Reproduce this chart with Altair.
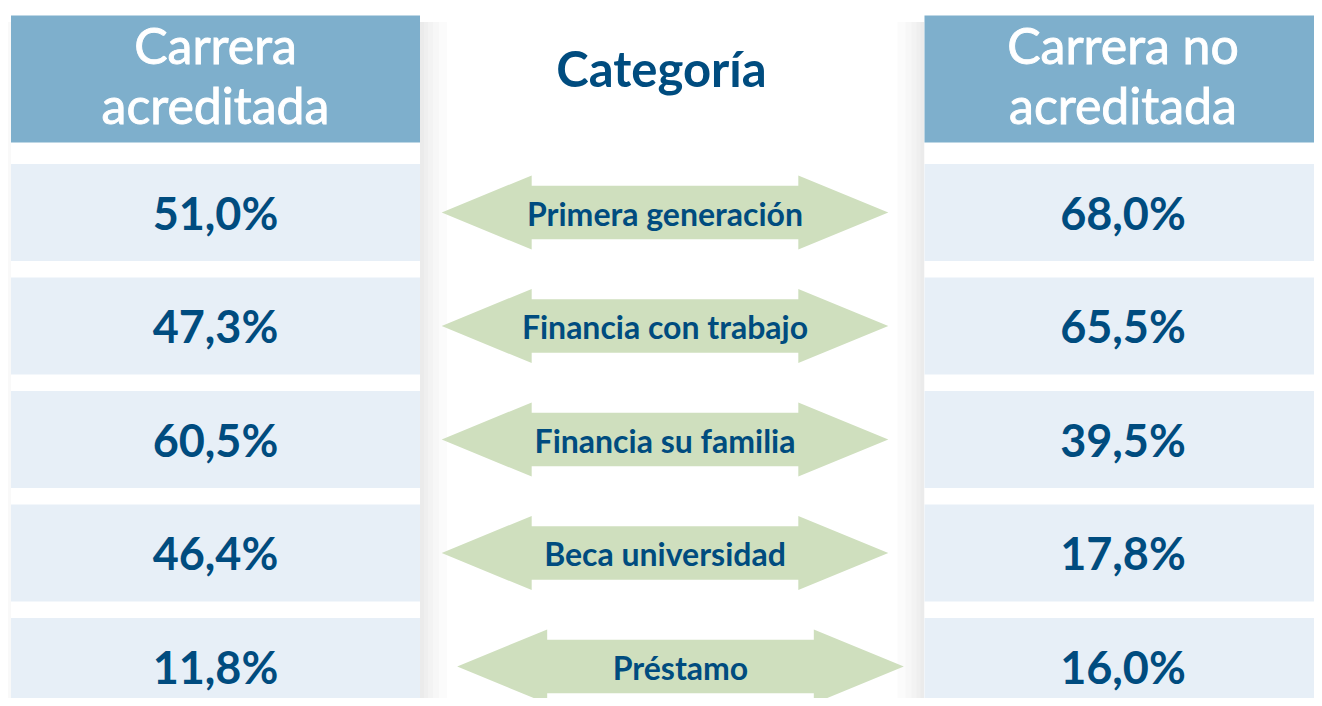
import altair as alt
import pandas as pd

# ---------------- data ----------------
categories = ["Primera generación", "Financia con trabajo", "Financia su familia",
              "Beca universidad", "Préstamo"]
acreditada = [51.0, 47.3, 60.5, 46.4, 11.8]
no_acreditada = [68.0, 65.5, 39.5, 17.8, 16.0]
headers = ["Carrera\nacreditada", "Carrera no\nacreditada"]
center_title = ["Categoría"]

# ---------------- layout / style ----------------
W, H = 1306, 690
PX0, PX1 = 8, 8 + W                # page-pixel x domain
ROW_PITCH = 113.5
ROW1_C = 212.5
def row_units(py):                 # page y -> row units
    return 1 + (py - ROW1_C) / ROW_PITCH
Y_TOP, Y_BOT = row_units(8), row_units(8 + H)

col_x0 = [11, 924.5]
col_x1 = [420, 1330]
col_cx = [215.5, 1123]
arrow_cx = [665, 665, 665, 665, 680.5]
TITLE_CX = 661.5

HDR_TOP, HDR_BOT = row_units(15.5), row_units(142.5)
HDR_TXT = row_units(63.5)
TITLE_Y = row_units(86.5)
HALF = 48.5 / ROW_PITCH

C_HDR = "#7eafcc"
C_ROW = "#e7eff7"
C_ARROW = "#cfdfbe"
C_TXT = "#004c7f"
FONT = "Lato"

ARROW_PATH = ("M -1 0 L -0.597 -0.166 L -0.597 -0.12 L 0.597 -0.12 L 0.597 -0.166 "
              "L 1 0 L 0.597 0.166 L 0.597 0.12 L -0.597 0.12 L -0.597 0.166 Z")
ARROW_SIZE = 446.6 ** 2

def fmt(v):
    return f"{v:.1f}".replace(".", ",") + "%"

# ---------------- tables ----------------
cols = pd.DataFrame({
    "x0": col_x0, "x1": col_x1, "cx": col_cx, "header": headers,
    "ytop": [HDR_TOP] * 2, "ybot": [HDR_BOT] * 2, "ytxt": [HDR_TXT] * 2,
    "yall0": [HDR_TOP - 0.01] * 2, "yall1": [Y_BOT + 0.05] * 2,
})

# soft shadows toward the centre (and a faint one at far left)
shadow_rows = []
for e in [4, 8, 13, 19, 27]:
    shadow_rows.append({"x0": col_x1[0], "x1": col_x1[0] + e, "op": 0.016})
    shadow_rows.append({"x0": col_x0[1] - e, "x1": col_x0[1], "op": 0.016})
for e in [4, 8, 11]:
    shadow_rows.append({"x0": col_x0[0] - e, "x1": col_x0[0], "op": 0.008})
shadows = pd.DataFrame(shadow_rows)
shadows["ytop"] = row_units(22)
shadows["ybot"] = Y_BOT + 0.05

cells = []
for i, cat in enumerate(categories):
    r = i + 1
    for side, vals in enumerate([acreditada, no_acreditada]):
        cells.append({
            "row": r, "y0": r - HALF, "y1": r + HALF,
            "x0": col_x0[side], "x1": col_x1[side], "cx": col_cx[side],
            "label": fmt(vals[i]),
        })
cells = pd.DataFrame(cells)

arrows = pd.DataFrame({
    "row": list(range(1, len(categories) + 1)),
    "cat": categories,
    "ax": arrow_cx,
})

title_df = pd.DataFrame({"t": center_title, "x": [TITLE_CX], "y": [TITLE_Y]})

# ---------------- scales ----------------
xs = alt.Scale(domain=[PX0, PX1], nice=False, zero=False)
ys = alt.Scale(domain=[Y_TOP, Y_BOT], nice=False, zero=False, reverse=True)

shadow_layer = alt.Chart(shadows).mark_rect(color="#000000").encode(
    x=alt.X("x0:Q", scale=xs, axis=None), x2="x1:Q",
    y=alt.Y("ytop:Q", scale=ys, axis=None), y2="ybot:Q",
    opacity=alt.Opacity("op:Q", scale=None),
)

col_bg = alt.Chart(cols).mark_rect(color="white").encode(
    x=alt.X("x0:Q", scale=xs, axis=None), x2="x1:Q",
    y=alt.Y("yall0:Q", scale=ys, axis=None), y2="yall1:Q",
)

hdr_rect = alt.Chart(cols).mark_rect(color=C_HDR).encode(
    x=alt.X("x0:Q", scale=xs, axis=None), x2="x1:Q",
    y=alt.Y("ytop:Q", scale=ys, axis=None), y2="ybot:Q",
)

hdr_text = alt.Chart(cols).mark_text(
    font=FONT, fontSize=50, color="white", lineBreak="\n", lineHeight=60,
    baseline="alphabetic", align="center", stroke="white", strokeWidth=0.9,
).encode(
    x=alt.X("cx:Q", scale=xs, axis=None),
    y=alt.Y("ytxt:Q", scale=ys, axis=None),
    text="header:N",
)

row_rect = alt.Chart(cells).mark_rect(color=C_ROW).encode(
    x=alt.X("x0:Q", scale=xs, axis=None), x2="x1:Q",
    y=alt.Y("y0:Q", scale=ys, axis=None), y2="y1:Q",
)

val_text = alt.Chart(cells).mark_text(
    font=FONT, fontSize=45, fontWeight="bold", color=C_TXT,
    baseline="alphabetic", align="center", dy=17,
).encode(
    x=alt.X("cx:Q", scale=xs, axis=None),
    y=alt.Y("row:Q", scale=ys, axis=None),
    text="label:N",
)

title_text = alt.Chart(title_df).mark_text(
    font=FONT, fontSize=49, fontWeight="bold", color=C_TXT,
    baseline="alphabetic", align="center",
).encode(
    x=alt.X("x:Q", scale=xs, axis=None),
    y=alt.Y("y:Q", scale=ys, axis=None),
    text="t:N",
)

arrow_layer = alt.Chart(arrows).mark_point(
    shape=ARROW_PATH, size=ARROW_SIZE, filled=True, color=C_ARROW,
    opacity=1, strokeWidth=0,
).encode(
    x=alt.X("ax:Q", scale=xs, axis=None),
    y=alt.Y("row:Q", scale=ys, axis=None),
)

arrow_text = alt.Chart(arrows).mark_text(
    font=FONT, fontSize=32, fontWeight="bold", color=C_TXT,
    baseline="alphabetic", align="center", dy=13,
).encode(
    x=alt.X("ax:Q", scale=xs, axis=None),
    y=alt.Y("row:Q", scale=ys, axis=None),
    text="cat:N",
)

chart = alt.layer(
    shadow_layer, col_bg, hdr_rect, row_rect, hdr_text, val_text, title_text,
    arrow_layer, arrow_text,
).properties(
    width=W, height=H, padding=0, autosize=alt.AutoSizeParams(type="none"),
    background="white",
).configure_view(stroke=None)

chart.save("out.html", embed_options={"renderer": "svg", "actions": False})
